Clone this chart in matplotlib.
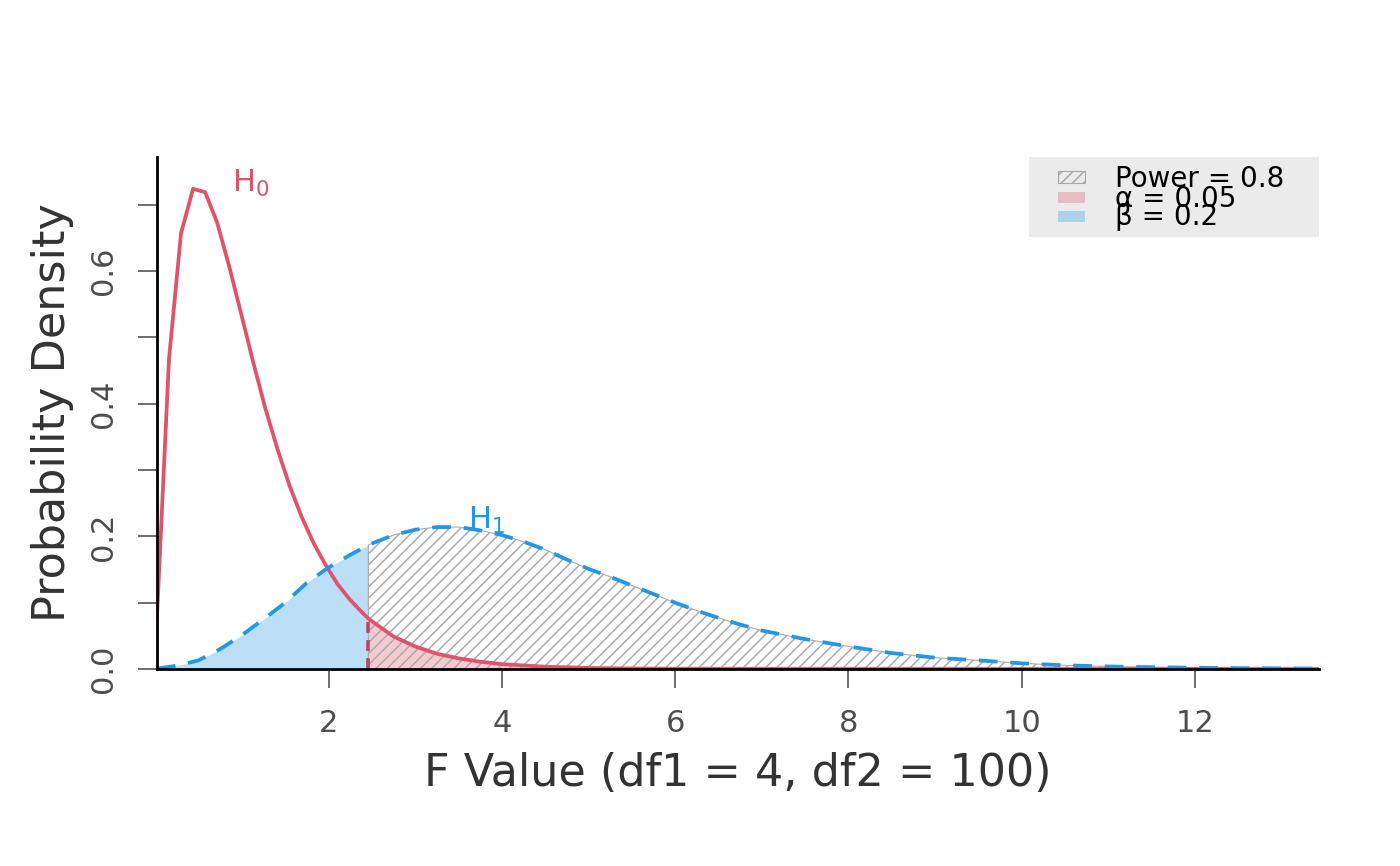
import numpy as np
import matplotlib.pyplot as plt
from matplotlib.patches import Rectangle

# critical F value (alpha = 0.05, df1 = 4, df2 = 100)
crit = 2.46

# H0 curve
h0_x = [0.02, 0.159, 0.298, 0.437, 0.576, 0.715, 0.854, 0.993, 1.132, 1.271,
        1.41, 1.549, 1.688, 1.827, 1.966, 2.105, 2.244, 2.383, 2.46, 2.522,
        2.75, 3.0, 3.25, 3.5, 3.75, 4.0, 4.5, 5.0, 5.5, 6.0,
        7.0, 8.0, 10.0, 13.43]
h0_y = [0.078, 0.467, 0.657, 0.724, 0.719, 0.673, 0.607, 0.535, 0.462, 0.393,
        0.332, 0.277, 0.230, 0.190, 0.157, 0.128, 0.105, 0.086, 0.076, 0.070,
        0.049, 0.034, 0.023, 0.016, 0.011, 0.0073, 0.0034, 0.0016, 0.0007, 0.0003,
        0.0001, 0.0, 0.0, 0.0]

# H1 curve
h1_x = [0.02, 0.25, 0.5, 0.75, 1.0, 1.25, 1.5, 1.75, 2.0, 2.25,
        2.46, 2.75, 3.0, 3.25, 3.5, 3.75, 4.0, 4.25, 4.5, 4.75,
        5.0, 5.25, 5.5, 5.75, 6.0, 6.25, 6.5, 6.75, 7.0, 7.5,
        8.0, 8.5, 9.0, 9.5, 10.0, 10.5, 11.0, 11.5, 12.0, 12.5,
        13.0, 13.43]
h1_y = [0.0005, 0.005, 0.013, 0.030, 0.051, 0.075, 0.100, 0.130, 0.153, 0.172,
        0.187, 0.202, 0.210, 0.214, 0.214, 0.209, 0.202, 0.192, 0.180, 0.165,
        0.151, 0.139, 0.126, 0.113, 0.100, 0.088, 0.077, 0.067, 0.058, 0.045,
        0.034, 0.024, 0.017, 0.013, 0.0085, 0.0055, 0.0038, 0.0027, 0.0019, 0.0013,
        0.0009, 0.0006]

x_ticks = [2, 4, 6, 8, 10, 12]
y_ticks = [0.0, 0.1, 0.2, 0.3, 0.4, 0.5, 0.6, 0.7]
y_tick_labels = ["0.0", "", "0.2", "", "0.4", "", "0.6", ""]

legend_labels = ["Power = 0.8", "\u03b1 = 0.05", "\u03b2 = 0.2"]

red = "#DF536B"
blue = "#2297E6"

plt.rcParams["hatch.linewidth"] = 1.1
plt.rcParams["mathtext.fontset"] = "dejavusans"

h0_x = np.array(h0_x)
h0_y = np.array(h0_y)
h1_x = np.array(h1_x)
h1_y = np.array(h1_y)

fig = plt.figure(figsize=(14, 8.66), dpi=100)
ax = fig.add_axes([0.1121, 0.2275, 0.83, 0.5912])

# curves first, shaded areas go on top
ax.plot(h0_x, h0_y, color=red, lw=2.7)
ax.plot(h1_x, h1_y, color=blue, lw=2.7, linestyle=(0, (5.0, 3.4)))

h0_crit = h0_y[h0_x == crit][0]
ax.plot([crit, crit], [0, h0_crit], color="#B8456A", lw=2.6, linestyle=(0, (3, 2)))

lo = h1_x <= crit
ax.fill_between(h1_x[lo], 0, h1_y[lo], color=blue, alpha=0.3, lw=0)
hi0 = h0_x >= crit
ax.fill_between(h0_x[hi0], 0, h0_y[hi0], color=red, alpha=0.3, lw=0)
hi1 = h1_x >= crit
ax.fill_between(h1_x[hi1], 0, h1_y[hi1], facecolor="none", edgecolor="#ABABAB",
                hatch="///", lw=0.8)

ax.text(0.89, 0.7195, r"$\mathregular{H_0}$", color=red, fontsize=22)
ax.text(3.61, 0.211, r"$\mathregular{H_1}$", color=blue, fontsize=22)

ax.set_xlim(0.02, 13.43)
ax.set_ylim(0, 0.772)

ax.set_xticks(x_ticks)
ax.set_xticklabels([str(t) for t in x_ticks])
ax.set_yticks(y_ticks)
ax.set_yticklabels(y_tick_labels)
for lbl in ax.get_yticklabels():
    lbl.set_rotation(90)
    lbl.set_va("center")

ax.tick_params(axis="both", length=14, width=1.2, color="#555555",
               labelsize=22, labelcolor="#4D4D4D")
ax.tick_params(axis="x", pad=15)
ax.tick_params(axis="y", pad=14)

for side in ["top", "right"]:
    ax.spines[side].set_visible(False)
for side in ["left", "bottom"]:
    ax.spines[side].set_linewidth(2)
    ax.spines[side].set_color("black")

ax.set_xlabel("F Value (df1 = 4, df2 = 100)", fontsize=32, color="#333333", labelpad=10)
ax.set_ylabel("Probability Density", fontsize=32, color="#333333", labelpad=11)

# legend, built by hand so the rows overlap like the original
ax.add_patch(Rectangle((0.7504, 0.84375), 0.2496, 0.15625, transform=ax.transAxes,
                       facecolor="#EBEBEB", edgecolor="none", clip_on=False, zorder=5))
patch_y = [0.9502, 0.9111, 0.8721]
ax.add_patch(Rectangle((0.7757, patch_y[0]), 0.0232, 0.0215, transform=ax.transAxes,
                       facecolor="none", edgecolor="#A8A8A8", hatch="///", lw=0.8,
                       clip_on=False, zorder=6))
ax.add_patch(Rectangle((0.7757, patch_y[1]), 0.0232, 0.0215, transform=ax.transAxes,
                       facecolor=red, alpha=0.3, edgecolor="none", clip_on=False, zorder=6))
ax.add_patch(Rectangle((0.7757, patch_y[2]), 0.0232, 0.0215, transform=ax.transAxes,
                       facecolor=blue, alpha=0.3, edgecolor="none", clip_on=False, zorder=6))
text_y = [0.942, 0.9029, 0.8672]
for lab, ty in zip(legend_labels, text_y):
    ax.text(0.8244, ty, lab, transform=ax.transAxes, fontsize=20, color="black",
            va="baseline", zorder=7)

fig.savefig("out.png", dpi=100)
